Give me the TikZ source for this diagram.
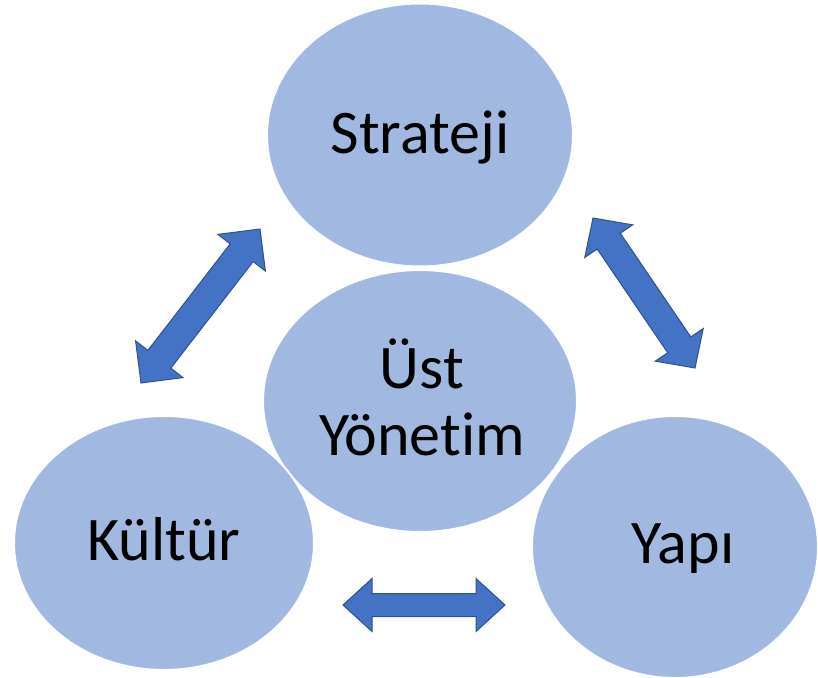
\documentclass[tikz,border=0pt]{standalone}
\usepackage{fontspec}
\setmainfont[Ligatures={NoCommon,NoContextual}]{Carlito}
\usetikzlibrary{shapes.geometric,calc}
\definecolor{ellfill}{RGB}{161,185,225}
\definecolor{arrfill}{RGB}{68,114,196}
\definecolor{arrline}{RGB}{47,82,143}
\newcommand\dblarr[5]{%
  \path ($(#1)!#3!(#2)$) coordinate (pa) ($(#2)!#3!(#1)$) coordinate (pb);
  \draw[arr] (#1) -- ($(pa)!#4!90:(#2)$) -- ($(pa)!#5!90:(#2)$)
    -- ($(pb)!#5!-90:(#1)$) -- ($(pb)!#4!-90:(#1)$) -- (#2)
    -- ($(pb)!#4!90:(#1)$) -- ($(pb)!#5!90:(#1)$)
    -- ($(pa)!#5!-90:(#2)$) -- ($(pa)!#4!-90:(#2)$) -- cycle;}
\begin{document}
\begin{tikzpicture}[x=1pt,y=-1pt,
  ell/.style={ellipse, fill=ellfill, draw=white, line width=2pt, inner sep=0pt},
  lbl/.style={anchor=base, inner sep=0pt, font=\fontsize{62}{67}\selectfont, align=center},
  arr/.style={fill=arrfill, draw=arrline, line width=1pt, line join=miter}]
\useasboundingbox (0,0) rectangle (818,677);
\node[ell, minimum width=306pt, minimum height=263pt] (str) at (420,135) {};
\node[ell, minimum width=314pt, minimum height=262pt] (ust) at (420,401) {};
\node[ell, minimum width=286pt, minimum height=262pt] (yap) at (675,547) {};
\node[ell, minimum width=300pt, minimum height=254pt] (kul) at (164,543) {};
\node[lbl] (tstr) at (420,153) {Strateji};
\node[lbl] (tust1) at (422,388) {Üst};
\node[lbl] (tust2) at (422,455) {Yönetim};
\node[lbl] (tkul) at (164,560) {Kültür};
\node[lbl] (tyap) at (683,563) {Yapı};
\coordinate (l1) at (141,383);
\coordinate (l2) at (260,229);
\coordinate (r1) at (593,218);
\coordinate (r2) at (695,368);
\coordinate (b1) at (343,605);
\coordinate (b2) at (505,605);
\dblarr{l1}{l2}{30pt}{30pt}{14.5pt}
\dblarr{r1}{r2}{28pt}{29pt}{14pt}
\dblarr{b1}{b2}{29pt}{26.5pt}{11.5pt}
\end{tikzpicture}
\end{document}
